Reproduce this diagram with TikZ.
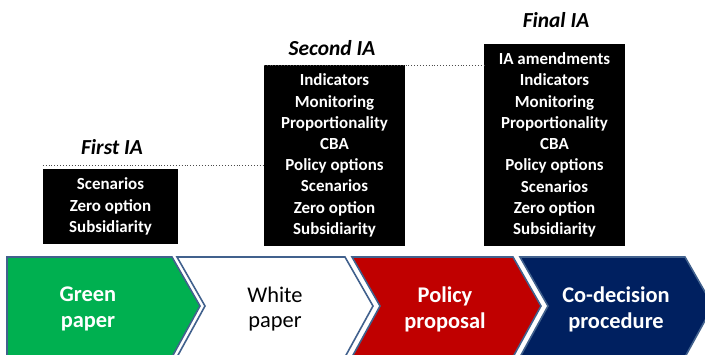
\documentclass[tikz,border=0pt]{standalone}
\usepackage{fontspec}
\setmainfont{Carlito}
\definecolor{cgreen}{HTML}{00B050}
\definecolor{cred}{HTML}{C00000}
\definecolor{cnavy}{HTML}{002060}
\definecolor{cborder}{HTML}{41618D}
\begin{document}
\begin{tikzpicture}[x=1bp,y=-1bp,
  iabox/.style={fill=black,text=white,font=\bfseries\fontsize{17}{21.3}\selectfont,align=center,inner sep=0pt},
  iatitle/.style={font=\bfseries\itshape\fontsize{21.5}{24}\selectfont},
  chev/.style={draw=cborder,line width=1.6bp,line join=miter},
  chevtext/.style={align=center,font=\fontsize{22.5}{26}\selectfont},
  chevbold/.style={chevtext,text=white,font=\bfseries\fontsize{22.5}{26}\selectfont},
  dotline/.style={draw=black!70,dotted,line width=0.9bp}]
\useasboundingbox (0,0) rectangle (705,354);
% chevrons
\fill[cgreen] (7,257) -- (172,257) -- (200,306) -- (172,356) -- (7,356) -- cycle;
\draw[chev] (7,357) -- (7,257) -- (172,257) -- (200,306) -- (172,357);
\draw[chev,fill=white] (177,257) -- (345,257) -- (373,306) -- (345,357) -- (177,357) -- (205,306) -- cycle;
\draw[chev,fill=cred] (352,257) -- (513,257) -- (541,306) -- (513,357) -- (352,357) -- (380,306) -- cycle;
\draw[chev,fill=cnavy] (520,257) -- (685,257) -- (713,306) -- (685,357) -- (520,357) -- (548,306) -- cycle;
\node[chevbold] (green) at (88,309) {Green\\paper};
\node[chevtext,text=black] (white) at (275,309) {White\\paper};
\node[chevbold] (policy) at (445,309) {Policy\\proposal};
\node[chevbold] (codec) at (616,309) {Co-decision\\procedure};
% boxes
\node[iabox,minimum width=135bp,minimum height=75bp] (b1) at (110.5,206.5) {Scenarios\\Zero option\\Subsidiarity};
\node[iabox,minimum width=141bp,minimum height=181bp] (b2) at (334.5,155.5) {Indicators\\Monitoring\\Proportionality\\CBA\\Policy options\\Scenarios\\Zero option\\Subsidiarity};
\node[iabox,minimum width=141bp,minimum height=202bp] (b3) at (554.5,145) {IA amendments\\Indicators\\Monitoring\\Proportionality\\CBA\\Policy options\\Scenarios\\Zero option\\Subsidiarity};
% titles
\node[iatitle] (t1) at (112,147) {First IA};
\node[iatitle] (t2) at (332,48) {Second IA};
\node[iatitle] (t3) at (556,20) {Final IA};
% dotted lines
\coordinate (d1s) at ([yshift=3bp]b1.north west);
\coordinate (d2s) at ([yshift=-0.5bp]b2.north west);
\draw[dotline] (d1s) -- (d1s -| b2.west);
\draw[dotline] (d2s) -- (d2s -| b3.west);
\end{tikzpicture}
\end{document}
